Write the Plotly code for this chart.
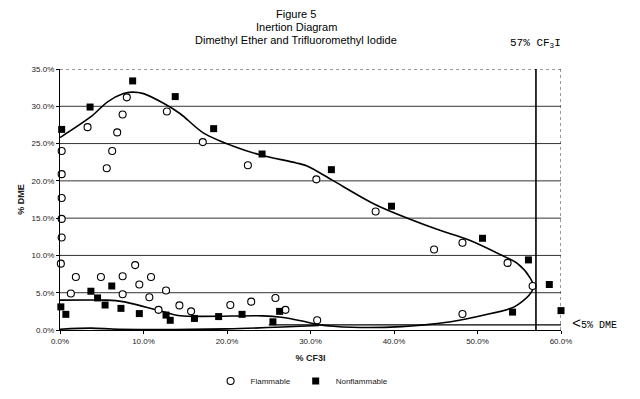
import plotly.graph_objects as go

# ---- data ----
flam_x = [0.2, 0.2, 0.2, 0.2, 0.2, 0.1, 1.3, 1.9, 3.3, 4.9, 5.6, 6.25, 6.85, 7.5, 8.0,
          7.5, 7.5, 9.0, 9.5, 10.9, 10.7, 12.7, 11.8, 12.8, 14.3, 15.7, 17.1, 20.4, 22.5,
          22.9, 25.8, 27.0, 30.8, 30.7, 37.8, 44.8, 48.2, 48.2, 53.6, 56.6]
flam_y = [24.0, 20.9, 17.7, 14.9, 12.4, 8.9, 4.9, 7.1, 27.2, 7.1, 21.7, 24.0, 26.5, 28.9, 31.2,
          7.2, 4.8, 8.7, 6.1, 7.1, 4.4, 5.3, 2.7, 29.3, 3.3, 2.5, 25.2, 3.35, 22.1,
          3.8, 4.3, 2.7, 1.3, 20.2, 15.9, 10.8, 11.7, 2.15, 9.0, 5.9]

nonflam_x = [0.2, 3.6, 8.7, 13.8, 18.4, 24.2, 32.5, 39.7, 50.6, 56.1, 58.6, 60.0,
             0.1, 0.7, 3.7, 4.5, 5.4, 6.2, 7.3, 9.5, 12.7, 13.2, 16.1, 19.0, 21.8,
             25.5, 26.3, 54.2]
nonflam_y = [26.9, 29.9, 33.4, 31.3, 27.0, 23.6, 21.5, 16.6, 12.3, 9.4, 6.1, 2.6,
             3.1, 2.1, 5.2, 4.3, 3.35, 5.9, 2.9, 2.2, 2.0, 1.3, 1.55, 1.8, 2.1,
             1.1, 2.5, 2.4]

env_x = [0, 3.7, 5.7, 7.6, 8.6, 10.0, 12.4, 14.4, 17.2, 21.1, 23.9, 28.3, 29.6, 32.6,
         37.8, 44.9, 48.9, 52.4, 54.8, 56.3, 56.7, 56.2, 54.4, 50.8, 46.8, 40.9, 35.0,
         31.0, 29.0, 26.5, 24.3, 14.4, 12.4, 7.5, 5.6, 0]
env_y = [25.8, 28.6, 30.6, 31.7, 31.9, 31.7, 30.4, 29.0, 26.4, 24.5, 23.5, 22.4, 22.0, 20.1,
         16.8, 13.6, 12.1, 10.3, 8.9, 7.0, 5.8, 4.7, 3.1, 2.0, 1.1, 0.45, 0.36,
         0.7, 1.2, 1.7, 1.9, 1.9, 2.45, 3.8, 4.0, 4.0]

base_x = [0, 3.7, 7.0, 20.0, 31.0]
base_y = [0.1, 0.25, 0.1, 0.15, 0.6]

x_ticks = [0, 10, 20, 30, 40, 50, 60]
x_tick_text = ["0.0%", "10.0%", "20.0%", "30.0%", "40.0%", "50.0%", "60.0%"]
y_ticks = [0, 5, 10, 15, 20, 25, 30, 35]
y_tick_text = ["0.0%", "5.0%", "10.0%", "15.0%", "20.0%", "25.0%", "30.0%", "35.0%"]
grid_y = [5, 10, 15, 20, 25, 30]

title_lines = ["Figure 5", "Inertion Diagram", "Dimethyl Ether and Trifluoromethyl Iodide"]

limit_cf3i = 57
limit_dme_line = 0.7

FONT = "Liberation Sans, Arial, sans-serif"
MONO = "Liberation Mono, Courier New, monospace"

L, R, T, B = 48, 87, 61, 77
PW = 640 - L - R
PH = 399 - T - B

fig = go.Figure()

fig.add_trace(go.Scatter(x=env_x, y=env_y, mode="lines", line=dict(color="black", width=1.6,
                         shape="spline", smoothing=0.8), showlegend=False, hoverinfo="skip",
                         cliponaxis=False))
fig.add_trace(go.Scatter(x=base_x, y=base_y, mode="lines", line=dict(color="black", width=1.6,
                         shape="spline", smoothing=0.8), showlegend=False, hoverinfo="skip"))
fig.add_trace(go.Scatter(x=flam_x, y=flam_y, mode="markers", name="Flammable",
                         marker=dict(symbol="circle", size=7, color="white",
                                     line=dict(color="black", width=1.1)),
                         cliponaxis=False))
fig.add_trace(go.Scatter(x=nonflam_x, y=nonflam_y, mode="markers", name="Nonflammable",
                         marker=dict(symbol="square", size=7, color="black",
                                     line=dict(color="black", width=0)),
                         cliponaxis=False))

shapes = []
for g in grid_y:
    shapes.append(dict(type="line", xref="x", yref="y", x0=0, x1=60, y0=g, y1=g,
                       line=dict(color="#333", width=1), layer="below"))
shapes.append(dict(type="line", xref="x", yref="y", x0=0, x1=60, y0=35, y1=35,
                   line=dict(color="#333", width=1, dash="dot"), layer="below"))
shapes.append(dict(type="line", xref="x", yref="y", x0=60, x1=60, y0=0, y1=35,
                   line=dict(color="#333", width=1, dash="dot"), layer="below"))
shapes.append(dict(type="line", xref="x", yref="y", x0=limit_cf3i, x1=limit_cf3i, y0=-0.5, y1=35,
                   line=dict(color="black", width=1.6)))
shapes.append(dict(type="line", xref="x", yref="y", x0=25, x1=60, y0=limit_dme_line, y1=limit_dme_line,
                   line=dict(color="black", width=1.2)))

annotations = []
for i, (txt, yc) in enumerate(zip(title_lines, [14, 27, 40])):
    annotations.append(dict(text=txt, xref="paper", yref="paper", x=(294 - 56) / PW,
                            y=1 + (69 - yc) / PH, xanchor="center", yanchor="middle",
                            showarrow=False, borderpad=0,
                            font=dict(family=FONT, size=11, color="black")))
annotations += [
    dict(text="57% CF<sub>3</sub>I", xref="x", yref="paper", x=limit_cf3i, y=1 + (69 - 43) / PH,
         xanchor="center", yanchor="middle", showarrow=False,
         font=dict(family=MONO, size=11, color="black")),
    dict(text="<span style='font-size:15px'>&lt;</span>5% DME", xref="paper", yref="y",
         x=1 + (569 - 560) / PW, y=limit_dme_line, xanchor="left", yanchor="middle",
         showarrow=False, font=dict(family=MONO, size=10, color="black")),
]

fig.update_layout(
    width=640, height=399,
    margin=dict(l=L, r=R, t=T, b=B),
    paper_bgcolor="white", plot_bgcolor="white",
    font=dict(family=FONT, size=8, color="#222"),
    shapes=shapes, annotations=annotations,
    showlegend=True,
    legend=dict(orientation="h", x=(300 - 56) / PW, y=-(381 - 330) / PH,
                xanchor="center", yanchor="middle", font=dict(family=FONT, size=8, color="#222"),
                itemwidth=30, bgcolor="rgba(0,0,0,0)", tracegroupgap=0),
    xaxis=dict(range=[0, 60], tickvals=x_ticks, ticktext=x_tick_text, showgrid=False,
               zeroline=False, showline=True, linecolor="black", linewidth=1.2,
               ticks="outside", ticklen=3, tickcolor="black",
               title=dict(text="<b>% CF3I</b>", font=dict(family=FONT, size=9, color="#222"),
                          standoff=9)),
    yaxis=dict(range=[0, 35], tickvals=y_ticks, ticktext=y_tick_text, showgrid=False,
               zeroline=False, showline=True, linecolor="black", linewidth=1.2,
               ticks="outside", ticklen=3, tickcolor="black",
               title=dict(text="<b>% DME</b>", font=dict(family=FONT, size=9, color="#222"),
                          standoff=5)),
)

fig.write_html("out.html")
